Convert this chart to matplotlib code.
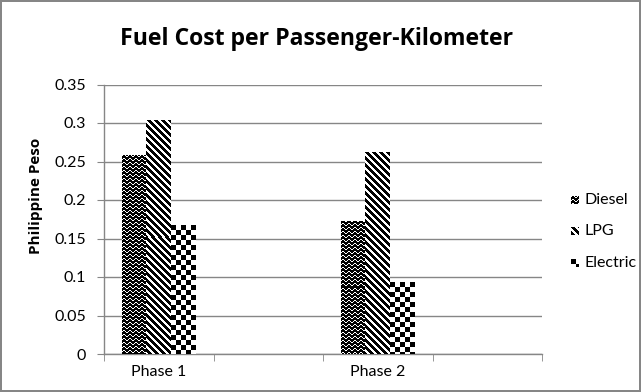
import numpy as np
import matplotlib
matplotlib.use("Agg")
import matplotlib.pyplot as plt

categories = ["Phase 1", "", "Phase 2", ""]
series = ["Diesel", "LPG", "Electric"]
diesel = [0.258, np.nan, 0.173, np.nan]
lpg = [0.304, np.nan, 0.262, np.nan]
electric = [0.167, np.nan, 0.093, np.nan]
yticks = [0, 0.05, 0.1, 0.15, 0.2, 0.25, 0.3, 0.35]

plt.rcParams["font.family"] = ["Lato", "DejaVu Sans"]
grey = "#868686"


def wave(h, w):
    r, c = np.mgrid[0:h, 0:w]
    off = np.round(1.2 * np.sin(2 * np.pi * c / 6)).astype(int)
    return np.where((r + off) % 4 == 0, 1.0, 0.0)


def stripes(h, w):
    r, c = np.mgrid[0:h, 0:w]
    return np.where((c - r) % 7 < 4, 0.0, 1.0)


def checks(h, w):
    r, c = np.mgrid[0:h, 0:w]
    return np.where(((r // 5) + (c // 5)) % 2 == 0, 0.0, 1.0)


patterns = [wave, stripes, checks]

W, H = 641, 392
fig = plt.figure(figsize=(W / 100, H / 100), dpi=100)
fig.patch.set_edgecolor(grey)
fig.patch.set_linewidth(1.5)
ax = fig.add_axes([104 / W, 1 - 354 / H, 438 / W, 269.5 / H])

x = np.arange(len(categories))
width = 0.224
ax.set_xlim(-0.5, len(categories) - 0.5)
ax.set_ylim(0, 0.35)
fig.canvas.draw()

for k, vals in enumerate([diesel, lpg, electric]):
    bars = ax.bar(x + (k - 1) * width, vals, width, color="none", linewidth=0)
    for b in bars:
        if np.isnan(b.get_height()):
            continue
        x0, y0 = b.get_x(), b.get_y()
        x1, y1 = x0 + b.get_width(), y0 + b.get_height()
        p0 = ax.transData.transform((x0, y0))
        p1 = ax.transData.transform((x1, y1))
        w = max(int(round(p1[0] - p0[0])), 1)
        h = max(int(round(p1[1] - p0[1])), 1)
        img = ax.imshow(patterns[k](h, w), cmap="gray", vmin=0, vmax=1,
                        extent=(x0, x1, y0, y1), origin="upper",
                        interpolation="nearest", aspect="auto", zorder=3)
        img.set_clip_path(b)

ax.set_xlim(-0.5, len(categories) - 0.5)
ax.set_ylim(0, 0.35)

ax.set_yticks(yticks)
ax.set_yticklabels([f"{v:g}" for v in yticks], fontsize=11.5)
ax.yaxis.grid(True, color=grey, linewidth=1)
ax.set_axisbelow(True)
ax.set_xticks(x)
ax.set_xticklabels(categories, fontsize=11.5)
ax.set_xticks(np.arange(-0.5, len(categories)), minor=True)
ax.tick_params(axis="x", which="major", length=0, pad=8)
ax.tick_params(axis="x", which="minor", length=5, color=grey, direction="out")
ax.tick_params(axis="y", length=5, color=grey, direction="out", pad=8)
for s in ["top", "right"]:
    ax.spines[s].set_visible(False)
for s in ["left", "bottom"]:
    ax.spines[s].set_color(grey)
    ax.spines[s].set_linewidth(1)

ax.set_ylabel("Philippine Peso", fontsize=11, fontweight="bold",
              family=["Open Sans", "DejaVu Sans"])
ax.yaxis.set_label_coords(43 / W, 0.5, transform=fig.transFigure)
fig.text(317 / W, 1 - 39 / H, "Fuel Cost per Passenger-Kilometer", fontsize=16.6,
         fontweight="bold", family=["Open Sans", "DejaVu Sans"],
         ha="center", va="center")

# legend: small patterned swatches with labels
for i, name in enumerate(series):
    yc = 200 + i * 31.5
    sw = fig.add_axes([571 / W, 1 - (yc + 4) / H, 8 / W, 8 / H])
    sw.imshow(patterns[i](8, 8), cmap="gray", vmin=0, vmax=1,
              interpolation="nearest", aspect="auto")
    sw.set_axis_off()
    fig.text(584 / W, 1 - yc / H, name, fontsize=11.5, va="center", ha="left")

fig.savefig("out.png", dpi=100, edgecolor=fig.get_edgecolor())
